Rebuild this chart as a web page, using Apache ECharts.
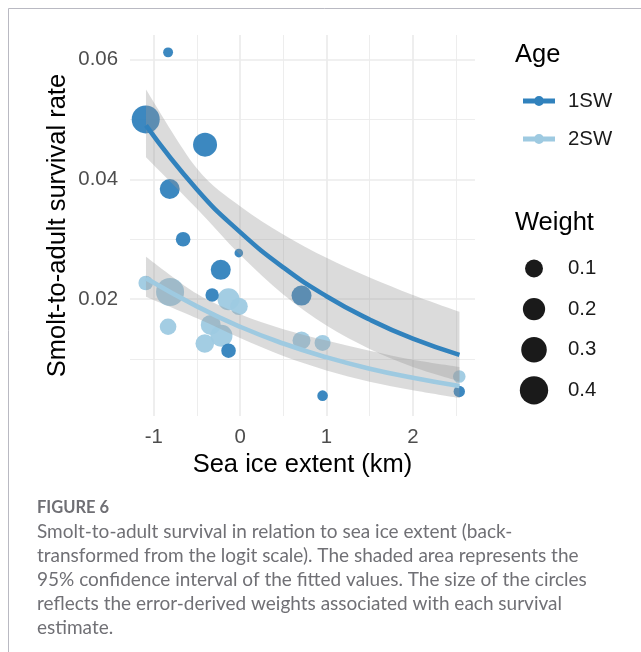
<!DOCTYPE html>
<html>
<head>
<meta charset="utf-8">
<script src="https://cdn.jsdelivr.net/npm/echarts@6/dist/echarts.min.js"></script>
<style>
  html, body { margin: 0; padding: 0; background: #fff; }
  #chart { width: 641px; height: 652px; }
</style>
</head>
<body>
<div id="chart"></div>
<script>
// survival estimates: x = sea ice extent, y = survival, w = weight
const x1SW = [-0.834, -1.093, -0.406, -0.815, -0.66, -0.015, -0.224, -0.324, -0.134, 0.711, 0.955, 2.538]
const y1SW = [0.0612, 0.0500, 0.0458, 0.0384, 0.0300, 0.0277, 0.0249, 0.0207, 0.0114, 0.0206, 0.0039, 0.0046]
const w1SW = [0.005, 0.387, 0.25, 0.143, 0.0455, 0.001, 0.143, 0.031, 0.0455, 0.143, 0.0084, 0.0134]

const x2SW = [-1.093, -0.811, -0.134, -0.012, -0.834, -0.34, -0.216, -0.409, 0.711, 0.955, 2.538]
const y2SW = [0.0227, 0.0212, 0.0200, 0.0188, 0.0154, 0.0157, 0.0139, 0.0126, 0.0131, 0.0127, 0.0071]
const w2SW = [0.0455, 0.387, 0.193, 0.089, 0.075, 0.143, 0.193, 0.112, 0.1, 0.066, 0.023]

// fitted curves and 95% CI, read at these x positions
const fitX = [-1.09, -0.5, 0, 0.5, 1, 1.5, 2, 2.54]
const fit1 = [0.0490, 0.0383, 0.0312, 0.0253, 0.0205, 0.0166, 0.0134, 0.0107]
const lo1 = [0.0437, 0.0351, 0.0274, 0.0208, 0.0156, 0.0117, 0.0087, 0.0063]
const hi1 = [0.0550, 0.0418, 0.0355, 0.0308, 0.0269, 0.0236, 0.0207, 0.0179]
const fit2 = [0.0235, 0.0188, 0.0154, 0.0126, 0.0103, 0.0084, 0.0069, 0.0055]
const lo2 = [0.0204, 0.0168, 0.0135, 0.0105, 0.0081, 0.0062, 0.0048, 0.0035]
const hi2 = [0.0271, 0.0209, 0.0175, 0.0150, 0.0131, 0.0114, 0.0099, 0.0087]

const xMajor = [-1, 0, 1, 2]
const xMinor = [-0.5, 0.5, 1.5, 2.5]
const yMajor = [0.02, 0.04, 0.06]
const yMinor = [0.01, 0.03, 0.05]
const weightKeys = [0.1, 0.2, 0.3, 0.4]

const FONT = '"Liberation Sans", Arial, sans-serif'
const CAP_FONT = 'Lato, "Open Sans", sans-serif'
const dark = '#3182bd'
const light = '#9ecae1'
const ribbon = 'rgba(153,153,153,0.35)'
const gridCol = '#ebebeb'

// radius in px for a weight (area scale, matched to the legend circles)
const radius = w => 3.8 + 16.4 * Math.sqrt(w)

const pts = (xs, ys, ws) => xs.map((x, i) => [x, ys[i], ws[i]])
const pairs = (ys) => fitX.map((x, i) => [x, ys[i]])

const xBase = { type: 'value', min: -1.275, max: 2.72, axisLine: { show: false } }
const yBase = { type: 'value', min: 0.0005, max: 0.0641, axisLine: { show: false } }

// catmull-rom through pixel points, as svg path commands
function curve(p, start) {
  let d = (start ? 'M' : 'L') + p[0][0] + ',' + p[0][1]
  for (let i = 0; i < p.length - 1; i++) {
    const p0 = p[i - 1] || p[i], p1 = p[i], p2 = p[i + 1], p3 = p[i + 2] || p[i + 1]
    const c1 = [p1[0] + (p2[0] - p0[0]) / 6, p1[1] + (p2[1] - p0[1]) / 6]
    const c2 = [p2[0] - (p3[0] - p1[0]) / 6, p2[1] - (p3[1] - p1[1]) / 6]
    d += 'C' + c1.join(',') + ' ' + c2.join(',') + ' ' + p2.join(',')
  }
  return d
}

function scatter(name, data, color) {
  return {
    name: name, type: 'scatter', data: data, z: 2,
    symbolSize: v => 2 * radius(v[2]),
    itemStyle: { color: color, opacity: 0.95 },
    emphasis: { disabled: true }
  }
}

function band(name, lo, hi) {
  return {
    name: name, type: 'custom', z: 3, silent: true,
    data: [[fitX[0], lo[0]]],
    renderItem: (params, api) => {
      const top = fitX.map((x, i) => api.coord([x, hi[i]]))
      const bottom = fitX.map((x, i) => api.coord([x, lo[i]])).reverse()
      return {
        type: 'path',
        shape: { pathData: curve(top, true) + curve(bottom, false) + 'Z' },
        style: { fill: ribbon, stroke: null }
      }
    }
  }
}

function fitLine(name, ys, color) {
  return {
    name: name, type: 'line', data: pairs(ys), smooth: true,
    showSymbol: false, symbol: 'none', z: 4,
    itemStyle: { color: color },
    lineStyle: { color: color, width: 4.6 },
    emphasis: { disabled: true }
  }
}

const chart = echarts.init(document.getElementById('chart'), null, { renderer: 'canvas' })

const captionText = [
  'Smolt-to-adult survival in relation to sea ice extent (back-',
  'transformed from the logit scale). The shaded area represents the',
  '95% confidence interval of the fitted values. The size of the circles',
  'reflects the error-derived weights associated with each survival',
  'estimate.'
].join('\n')

const graphics = [
  { type: 'line', shape: { x1: 8.5, y1: 8.5, x2: 641, y2: 8.5 }, style: { stroke: '#b9b9c2', lineWidth: 1 } },
  { type: 'line', shape: { x1: 8.5, y1: 8.5, x2: 8.5, y2: 652 }, style: { stroke: '#b9b9c2', lineWidth: 1 } },
  { type: 'text', x: 515, y: 55, style: { text: 'Age', fontSize: 25.5, fontFamily: FONT, fill: '#000', verticalAlign: 'middle' } },
  { type: 'text', x: 515, y: 223, style: { text: 'Weight', fontSize: 25.5, fontFamily: FONT, fill: '#000', verticalAlign: 'middle' } },
  { type: 'text', x: 37, y: 508, style: { text: 'FIGURE 6', fontSize: 16.5, fontWeight: 'bold', fontFamily: CAP_FONT, fill: '#6f6f74', verticalAlign: 'middle' } },
  { type: 'text', x: 37, y: 520, style: { text: captionText, fontSize: 19, lineHeight: 24, fontFamily: CAP_FONT, fill: '#707075', verticalAlign: 'top' } }
]

weightKeys.forEach((w, i) => {
  const cy = 268.5 + i * 40.6
  graphics.push({ type: 'circle', shape: { cx: 534, cy: cy, r: radius(w) }, style: { fill: '#1a1a1a' } })
  graphics.push({ type: 'text', x: 568, y: cy, style: { text: String(w), fontSize: 20.4, fontFamily: FONT, fill: '#1a1a1a', verticalAlign: 'middle' } })
})

chart.setOption({
  backgroundColor: '#fff',
  animation: false,
  grid: { left: 130, right: 166, top: 35, bottom: 236, containLabel: false, outerBoundsMode: 'none' },
  xAxis: [
    {
      ...xBase,
      name: 'Sea ice extent (km)', nameLocation: 'middle', nameGap: 36, nameMoveOverlap: false,
      nameTextStyle: { fontSize: 25.5, color: '#000', fontFamily: FONT },
      axisTick: { show: false, customValues: xMajor },
      axisLabel: { customValues: xMajor, fontSize: 20.4, color: '#4d4d4d', margin: 11, fontFamily: FONT, formatter: v => String(v) },
      splitLine: { show: true, lineStyle: { color: gridCol, width: 1.7 } }
    },
    {
      ...xBase, position: 'bottom',
      axisTick: { show: false, customValues: xMinor },
      axisLabel: { show: false },
      splitLine: { show: true, lineStyle: { color: gridCol, width: 0.9 } }
    }
  ],
  yAxis: [
    {
      ...yBase,
      name: 'Smolt-to-adult survival rate', nameLocation: 'middle', nameGap: 59, nameMoveOverlap: false,
      nameTextStyle: { fontSize: 25.5, color: '#000', fontFamily: FONT },
      axisTick: { show: false, customValues: yMajor },
      axisLabel: { customValues: yMajor, fontSize: 20.4, color: '#4d4d4d', margin: 12, fontFamily: FONT, formatter: v => v.toFixed(2) },
      splitLine: { show: true, lineStyle: { color: gridCol, width: 1.7 } }
    },
    {
      ...yBase, position: 'left',
      axisTick: { show: false, customValues: yMinor },
      axisLabel: { show: false },
      splitLine: { show: true, lineStyle: { color: gridCol, width: 0.9 } }
    }
  ],
  legend: {
    data: ['1SW', '2SW'], orient: 'vertical', left: 518, top: 86,
    itemWidth: 32, itemHeight: 10, itemGap: 18, selectedMode: false,
    icon: 'path://M0,3.5H32V8.5H0Z M11,6A5,5 0 1 1 21,6A5,5 0 1 1 11,6Z',
    textStyle: { fontSize: 20.4, color: '#1a1a1a', fontFamily: FONT, padding: [0, 0, 0, 8] }
  },
  series: [
    scatter('2SW points', pts(x2SW, y2SW, w2SW), light),
    scatter('1SW points', pts(x1SW, y1SW, w1SW), dark),
    band('1SW CI', lo1, hi1),
    fitLine('1SW', fit1, dark),
    band('2SW CI', lo2, hi2),
    fitLine('2SW', fit2, light)
  ],
  graphic: graphics
})
</script>
</body>
</html>
